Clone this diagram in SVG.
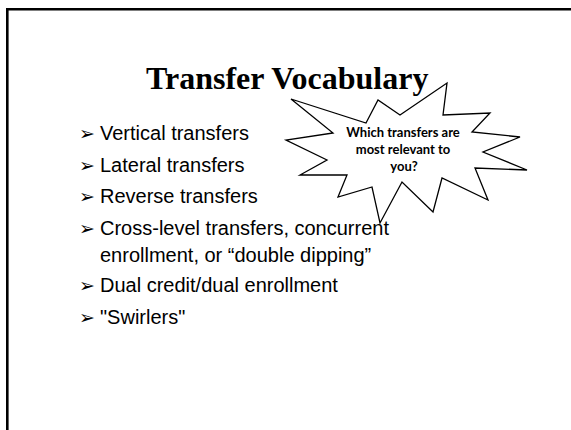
<svg xmlns="http://www.w3.org/2000/svg" width="571" height="430" viewBox="0 0 571 430">
<style>
.title{font-family:"Liberation Serif","Times New Roman",serif;font-weight:bold;font-size:32px;fill:#000}
.item{font-family:"Liberation Sans",Arial,sans-serif;font-size:20px;fill:#000}
.bul{font-family:"DejaVu Sans",sans-serif;font-size:19px;fill:#000}
.burst{fill:#fff;stroke:#000;stroke-width:1.3;stroke-linejoin:miter}
.btxt{font-family:Lato,"Liberation Sans",sans-serif;font-weight:bold;font-size:13px;fill:#000;text-anchor:middle}
.frame{fill:none;stroke:#000;stroke-width:2.6}
</style>
<rect width="571" height="430" fill="#fff"/>
<g id="frame">
<path class="frame" d="M7.3,432 V9.3 H572"/>
</g>
<g id="title">
<text class="title" x="146" y="89">Transfer Vocabulary</text>
</g>
<g id="bullets">
<text class="bul" x="79" y="140">➢</text><text class="item" x="100" y="140">Vertical transfers</text>
<text class="bul" x="79" y="171.5">➢</text><text class="item" x="100" y="171.5">Lateral transfers</text>
<text class="bul" x="79" y="203">➢</text><text class="item" x="100" y="203">Reverse transfers</text>
<text class="bul" x="79" y="235">➢</text><text class="item" x="100" y="235">Cross-level transfers, concurrent</text>
<text class="item" x="100" y="261.5">enrollment, or “double dipping”</text>
<text class="bul" x="79" y="292">➢</text><text class="item" x="100" y="292">Dual credit/dual enrollment</text>
<text class="bul" x="79" y="323.5">➢</text><text class="item" x="100" y="323.5">"Swirlers"</text>
</g>
<g id="starburst">
<polygon class="burst" points="291,99 366,123 378,100 400,115 447,83 443,115 490,113 472,132 520,137 483,152 527,170 475,168 488,200 442,178 433,212 402,182 380,223 372,187 338,197 347,175 300,175 327,160 286,140 333,133"/>
<text class="btxt" x="403" y="137">Which transfers are</text>
<text class="btxt" x="403" y="154">most relevant to</text>
<text class="btxt" x="404" y="170.5">you?</text>
</g>
</svg>
